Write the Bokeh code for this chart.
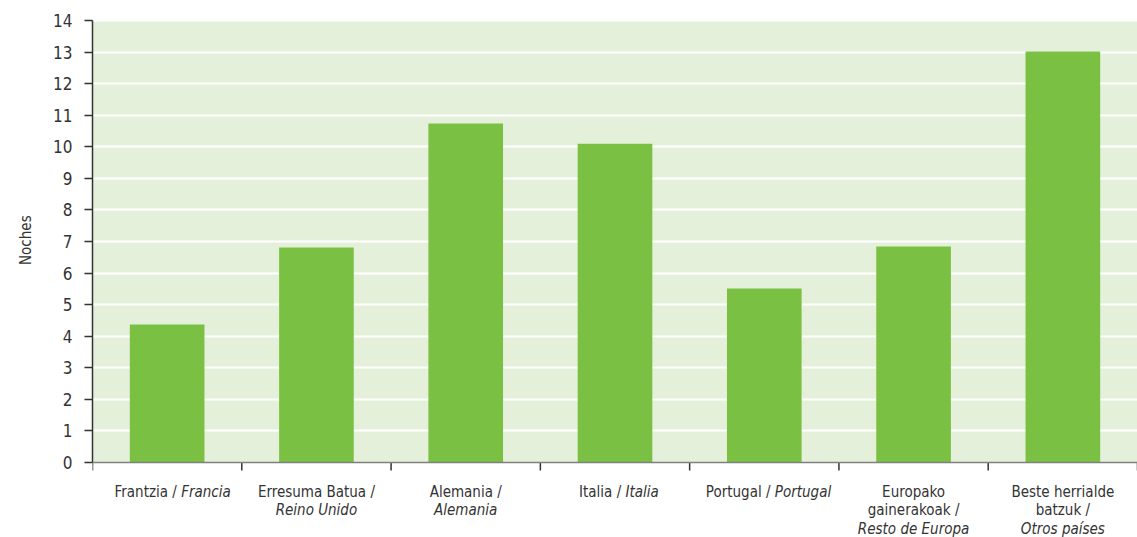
from bokeh.plotting import figure
from bokeh.models import Label, FixedTicker, Range1d, BoxAnnotation, Span, Title
from bokeh.embed import file_html
from bokeh.resources import INLINE

# Data
basque = ["Frantzia", "Erresuma Batua", "Alemania", "Italia", "Portugal",
          "Europako gainerakoak", "Beste herrialde batzuk"]
spanish = ["Francia", "Reino Unido", "Alemania", "Italia", "Portugal",
           "Resto de Europa", "Otros países"]
values = [4.37, 6.81, 10.74, 10.10, 5.51, 6.84, 13.02]
y_ticks = list(range(0, 15))
y_title = "Noches"

# label layout: each category -> lines, each line -> segments (text, italic)
label_lines = [
    [[("Frantzia / ", False), ("Francia", True)]],
    [[("Erresuma Batua /", False)], [("Reino Unido", True)]],
    [[("Alemania /", False)], [("Alemania", True)]],
    [[("Italia / ", False), ("Italia", True)]],
    [[("Portugal / ", False), ("Portugal", True)]],
    [[("Europako", False)], [("gainerakoak /", False)], [("Resto de Europa", True)]],
    [[("Beste herrialde", False)], [("batzuk /", False)], [("Otros países", True)]],
]

FONT = "DejaVu Sans Condensed"
TXT = "#333333"
W, H = 1137, 537
FRAME_TOP, AXIS_Y, FRAME_LEFT = 20, 462, 92
PX = (AXIS_Y - FRAME_TOP) / 14.0
YMIN = -(H - AXIS_Y) / PX
n = len(values)
centers = [i + 0.5 for i in range(n)]

p = figure(width=W, height=H, output_backend="svg", toolbar_location=None,
           x_range=Range1d(0, n), y_range=Range1d(YMIN, 14), x_axis_location=None,
           min_border_left=FRAME_LEFT, min_border_right=0, min_border_top=FRAME_TOP,
           min_border_bottom=0)
p.background_fill_color = "white"
p.border_fill_color = "white"
p.outline_line_color = None
p.grid.visible = False

# green plot area above the zero line
p.add_layout(BoxAnnotation(bottom=0, fill_color="#E5F0DA", fill_alpha=1.0,
                           line_color=None, level="underlay"))
# horizontal grid lines
p.hspan(y=y_ticks[1:], line_color="white", line_width=2)

p.vbar(x=centers, top=values, width=0.5, color="#7AC143", line_color=None)

p.yaxis.ticker = FixedTicker(ticks=y_ticks)
p.yaxis.bounds = (0, 14)
p.yaxis.axis_line_color = TXT
p.yaxis.axis_line_width = 1.5
p.yaxis.major_tick_line_color = TXT
p.yaxis.major_tick_line_width = 1.5
p.yaxis.major_tick_out = 8
p.yaxis.major_tick_in = 0
p.yaxis.minor_tick_line_color = None
p.yaxis.major_label_text_font = FONT
p.yaxis.major_label_text_font_size = "17px"
p.yaxis.major_label_text_color = TXT
p.yaxis.major_label_standoff = 12

# y title, centred on the 0-14 span (text starts at bottom - offset)
TITLE_HALF_LEN = 23.5
p.add_layout(Title(text=y_title, align="left", vertical_align="top",
                   offset=H - (FRAME_TOP + AXIS_Y) / 2 - TITLE_HALF_LEN,
                   text_font=FONT, text_font_size="15px", text_font_style="normal",
                   text_color=TXT, standoff=28), "left")

# x axis line and boundary ticks
p.add_layout(Span(location=0, dimension="width", line_color="#808080", line_width=1.5))
bounds = list(range(n + 1))
p.segment(x0=bounds, y0=[0] * len(bounds), x1=bounds, y1=[-8 / PX] * len(bounds),
          line_color=TXT, line_width=1.5)

CHAR_W = 7.0
LINE_H = 18.5
FS = "15px"
for cx, lines in zip(centers, label_lines):
    for j, segs in enumerate(lines):
        yoff = -(29 + LINE_H * j)
        if len(segs) == 1:
            t, it = segs[0]
            p.add_layout(Label(x=cx, y=0, text=t, x_offset=0, y_offset=yoff,
                               text_align="center", text_baseline="alphabetic",
                               text_font=FONT, text_font_size=FS, text_color=TXT,
                               text_font_style="italic" if it else "normal"))
        else:
            (a, ia), (b, ib) = segs
            split = (len(a) - len(b)) / 2 * CHAR_W
            p.add_layout(Label(x=cx, y=0, text=a, x_offset=split, y_offset=yoff,
                               text_align="right", text_baseline="alphabetic",
                               text_font=FONT, text_font_size=FS, text_color=TXT,
                               text_font_style="italic" if ia else "normal"))
            p.add_layout(Label(x=cx, y=0, text=b, x_offset=split, y_offset=yoff,
                               text_align="left", text_baseline="alphabetic",
                               text_font=FONT, text_font_size=FS, text_color=TXT,
                               text_font_style="italic" if ib else "normal"))

open("out.html", "w").write(file_html(p, INLINE))
